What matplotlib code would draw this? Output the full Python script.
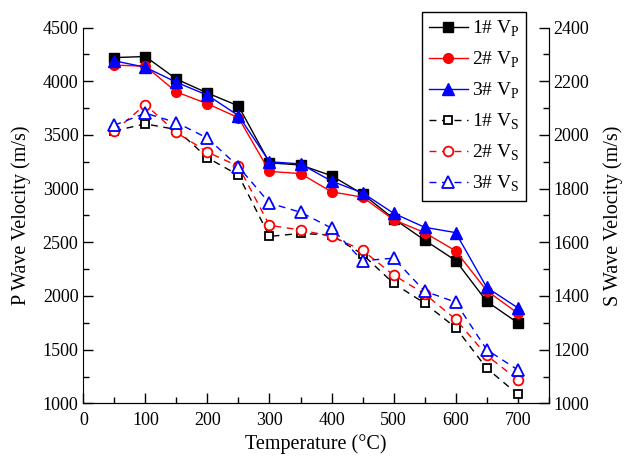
import matplotlib.pyplot as plt
from matplotlib.ticker import MultipleLocator

plt.rcParams['font.family'] = 'Liberation Serif'
plt.rcParams['mathtext.fontset'] = 'custom'
plt.rcParams['mathtext.rm'] = 'Liberation Serif'

# temperatures (°C)
temps = [50, 100, 150, 200, 250, 300, 350, 400, 450, 500, 550, 600, 650, 700]

# P wave velocity (m/s), left axis
vp1 = [4220, 4230, 4020, 3890, 3770, 3240, 3220, 3120, 2950, 2720, 2520, 2330, 1950, 1750]
vp2 = [4150, 4140, 3900, 3790, 3660, 3160, 3140, 2970, 2920, 2710, 2590, 2420, 2050, 1840]
vp3 = [4190, 4130, 3990, 3870, 3680, 3250, 3230, 3070, 2960, 2770, 2640, 2590, 2080, 1890]

# S wave velocity (m/s), right axis
vs1 = [2015, 2041, 2020, 1915, 1850, 1622, 1633, 1627, 1555, 1447, 1373, 1282, 1131, 1034]
vs2 = [2014, 2113, 2009, 1936, 1883, 1663, 1646, 1622, 1570, 1478, 1408, 1313, 1179, 1088]
vs3 = [2036, 2081, 2046, 1988, 1882, 1746, 1712, 1653, 1531, 1541, 1418, 1377, 1200, 1125]

fig = plt.figure(figsize=(6.25, 4.61), dpi=100)
ax = fig.add_axes([0.1333, 0.125, 0.878 - 0.1333, 0.9403 - 0.125])
ax2 = ax.twinx()

ax.plot(temps, vp1, color='black', marker='s', ms=7, lw=1, label='1# V$_\\mathrm{P}$')
ax.plot(temps, vp2, color='red', marker='o', ms=7, lw=1, label='2# V$_\\mathrm{P}$')
ax.plot(temps, vp3, color='blue', marker='^', ms=8, lw=1, label='3# V$_\\mathrm{P}$')

ax2.plot(temps, vs1, color='black', marker='s', ms=6, mfc='white', mew=1.3, lw=1, ls=(0, (5, 4)), label='1# V$_\\mathrm{S}$')
ax2.plot(temps, vs2, color='red', marker='o', ms=7, mfc='white', mew=1.3, lw=1, ls=(0, (5, 4)), label='2# V$_\\mathrm{S}$')
ax2.plot(temps, vs3, color='blue', marker='^', ms=8, mfc='white', mew=1.3, lw=1, ls=(0, (5, 4)), label='3# V$_\\mathrm{S}$')

ax.set_xlim(0, 750)
ax.set_ylim(1000, 4500)
ax2.set_ylim(1000, 2400)

ax.xaxis.set_major_locator(MultipleLocator(100))
ax.xaxis.set_minor_locator(MultipleLocator(50))
ax.yaxis.set_major_locator(MultipleLocator(500))
ax.yaxis.set_minor_locator(MultipleLocator(250))
ax2.yaxis.set_major_locator(MultipleLocator(200))
ax2.yaxis.set_minor_locator(MultipleLocator(100))

for a in (ax, ax2):
    a.spines['top'].set_visible(False)
    a.tick_params(which='major', direction='in', length=7, width=1, labelsize=13)
    a.tick_params(which='minor', direction='in', length=4, width=1)
ax.tick_params(axis='x', pad=6)
ax2.spines['left'].set_visible(False)

ax.set_xlabel('Temperature (°C)', fontsize=14.5)
ax.set_ylabel('P Wave Velocity (m/s)', fontsize=14.5, labelpad=8)
ax2.set_ylabel('S Wave Velocity (m/s)', fontsize=14.5, labelpad=10)

h1, l1 = ax.get_legend_handles_labels()
h2, l2 = ax2.get_legend_handles_labels()
leg = fig.legend(h1 + h2, l1 + l2, loc='upper right', bbox_to_anchor=(0.842, 0.974),
                 borderaxespad=0, fontsize=14, fancybox=False, edgecolor='black', framealpha=1,
                 handlelength=2.0, labelspacing=0.55, borderpad=0.35, handletextpad=0.2)
leg.get_frame().set_linewidth(1)

fig.savefig('out.png', dpi=100)
